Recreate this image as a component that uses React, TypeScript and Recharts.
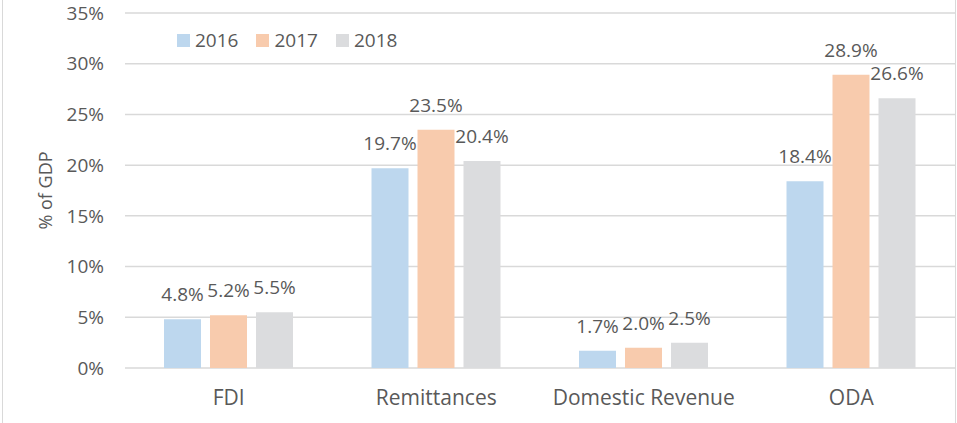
import React from "react";
import {
  BarChart,
  Bar,
  XAxis,
  YAxis,
  CartesianGrid,
  Legend,
  LabelList,
} from "recharts";

const categories = ["FDI", "Remittances", "Domestic Revenue", "ODA"];
const values2016 = [4.8, 19.7, 1.7, 18.4];
const values2017 = [5.2, 23.5, 2.0, 28.9];
const values2018 = [5.5, 20.4, 2.5, 26.6];
const yTicks = [0, 5, 10, 15, 20, 25, 30, 35];

const series = [
  { key: "y2016", name: "2016", color: "#bdd7ee" },
  { key: "y2017", name: "2017", color: "#f8cbad" },
  { key: "y2018", name: "2018", color: "#dbdcde" },
];

const data = categories.map((c, i) => ({
  category: c,
  y2016: values2016[i],
  y2017: values2017[i],
  y2018: values2018[i],
}));

const TEXT = "#595959";
const FONT = "'Open Sans', sans-serif";

function LegendContent() {
  return (
    <div style={{ display: "flex", alignItems: "center", fontFamily: FONT }}>
      {series.map((s) => (
        <div
          key={s.key}
          style={{ display: "flex", alignItems: "center", marginRight: 18 }}
        >
          <span
            style={{
              width: 13,
              height: 13,
              background: s.color,
              display: "inline-block",
              marginRight: 5,
            }}
          />
          <span style={{ fontSize: 19, color: TEXT, lineHeight: "22px" }}>
            {s.name}
          </span>
        </div>
      ))}
    </div>
  );
}

function YLabel(props: any) {
  const vb = props.viewBox || { x: 0, y: 0, width: 0, height: 0 };
  const cx = 45;
  const cy = vb.y + vb.height / 2;
  return (
    <text
      x={cx}
      y={cy}
      transform={`rotate(-90, ${cx}, ${cy})`}
      textAnchor="middle"
      dominantBaseline="central"
      fill={TEXT}
      fontSize={18}
      fontFamily={FONT}
    >
      % of GDP
    </text>
  );
}

export default function App() {
  return (
    <div
      style={{
        position: "absolute",
        left: 0,
        top: 0,
        width: 957,
        height: 423,
        background: "#fff",
      }}
    >
      <div
        style={{
          position: "absolute",
          left: 2,
          top: 0,
          width: 1,
          height: 423,
          background: "#d9d9d9",
        }}
      />
      <div
        style={{
          position: "absolute",
          left: 955,
          top: 0,
          width: 1,
          height: 423,
          background: "#d9d9d9",
        }}
      />
      <BarChart
        width={957}
        height={423}
        data={data}
        margin={{ top: 13, right: 2, left: 0, bottom: 25 }}
        barSize={37}
        barGap={9}
        style={{ fontFamily: FONT }}
      >
        <CartesianGrid
          vertical={false}
          stroke="#d9d9d9"
          strokeWidth={1.5}
        />
        <XAxis
          dataKey="category"
          axisLine={false}
          tickLine={false}
          tickSize={0}
          tickMargin={22}
          height={30}
          tick={{ fill: TEXT, fontSize: 21, fontFamily: FONT }}
        />
        <YAxis
          domain={[0, 35]}
          ticks={yTicks}
          interval={0}
          width={125}
          axisLine={false}
          tickLine={false}
          tickSize={0}
          tickMargin={21}
          tickFormatter={(v) => `${v}%`}
          tick={{ fill: TEXT, fontSize: 19, fontFamily: FONT }}
          label={<YLabel />}
        />
        <Legend
          layout="horizontal"
          verticalAlign="middle"
          align="center"
          content={<LegendContent />}
          wrapperStyle={{ top: 29, left: 177, width: "auto" }}
        />
        {series.map((s) => (
          <Bar
            key={s.key}
            dataKey={s.key}
            name={s.name}
            fill={s.color}
            isAnimationActive={false}
          >
            <LabelList
              dataKey={s.key}
              position="top"
              offset={18}
              formatter={(v: any) => `${Number(v).toFixed(1)}%`}
              fill={TEXT}
              fontSize={19}
              fontFamily={FONT}
            />
          </Bar>
        ))}
      </BarChart>
    </div>
  );
}
